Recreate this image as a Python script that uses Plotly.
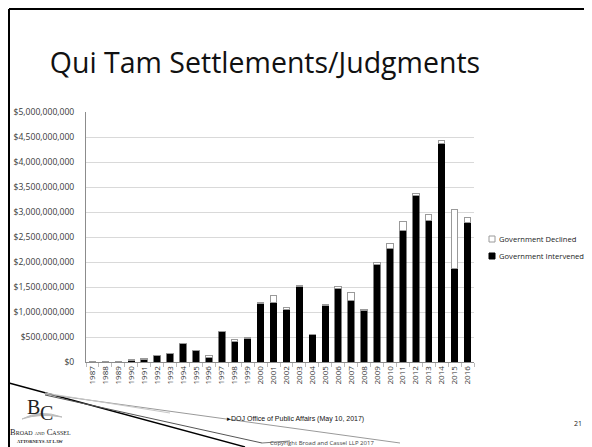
import plotly.graph_objects as go

years = [str(y) for y in range(1987, 2017)]
intervened = [0, 2e6, 5e6, 40e6, 50e6, 130e6, 175e6, 370e6, 230e6, 100e6,
              610e6, 420e6, 480e6, 1180e6, 1200e6, 1060e6, 1520e6, 550e6, 1140e6, 1470e6,
              1240e6, 1030e6, 1950e6, 2270e6, 2640e6, 3330e6, 2830e6, 4370e6, 1870e6, 2790e6]
declined = [2e6, 3e6, 12e6, 5e6, 15e6, 5e6, 5e6, 10e6, 5e6, 35e6,
            10e6, 40e6, 10e6, 20e6, 140e6, 30e6, 20e6, 10e6, 10e6, 40e6,
            150e6, 20e6, 50e6, 110e6, 170e6, 40e6, 130e6, 70e6, 1180e6, 110e6]
series_names = ["Government Intervened", "Government Declined"]
y_ticks = [i * 5e8 for i in range(11)]

# page body has an 8px margin; work in window pixels and offset
OFF = 8
WIN_W, WIN_H = 592, 447
W, H = WIN_W - OFF, WIN_H - OFF
L, R, T, B = 86, 474, 112, 362  # plot area in window pixels


def px(x):
    return (x - L) / (R - L)


def py(y):
    return (B - y) / (B - T)


FONT = "Open Sans"
DEC_LINE = "#9a9a9a"

fig = go.Figure()
fig.add_trace(go.Bar(x=years, y=intervened, name=series_names[0],
                     marker=dict(color="black", line=dict(color="black", width=0.5))))
fig.add_trace(go.Bar(x=years, y=declined, name=series_names[1],
                     marker=dict(color="white", line=dict(color=DEC_LINE, width=1))))

fig.update_layout(
    width=W, height=H,
    margin=dict(l=L - OFF, r=WIN_W - R, t=T - OFF, b=WIN_H - B, pad=0, autoexpand=False),
    paper_bgcolor="white", plot_bgcolor="white",
    barmode="stack", bargap=0.5,
    font=dict(family=FONT, color="#333333"),
    title=dict(text="Qui Tam Settlements/Judgments", x=(265 - OFF) / W, xanchor="center",
               y=1 - (63 - OFF) / H, yanchor="middle",
               font=dict(family=FONT, size=28.5, color="#111111")),
    showlegend=False,
    xaxis=dict(type="category", tickangle=-90, tickfont=dict(size=8, color="#333333"),
               showline=True, linecolor="#8c8c8c", linewidth=1,
               ticks="outside", ticklen=4, tickcolor="#bbbbbb", tickson="boundaries",
               showgrid=False, automargin=False),
    yaxis=dict(range=[0, 5e9], tickvals=y_ticks, tickformat="$,.0f",
               tickfont=dict(size=8.6, color="#3a3a3a"),
               showgrid=True, gridcolor="#d9d9d9", gridwidth=1,
               showline=True, linecolor="#8c8c8c", linewidth=1,
               ticks="", zeroline=False, ticklabelstandoff=9, automargin=False),
)

shapes = []
# slide border
shapes.append(dict(type="line", xref="paper", yref="paper", x0=px(9), y0=py(9), x1=px(9), y1=py(450),
                   line=dict(color="black", width=2)))
shapes.append(dict(type="line", xref="paper", yref="paper", x0=px(9), y0=py(9), x1=px(595), y1=py(9),
                   line=dict(color="black", width=2)))
# decorative swoosh lines
shapes.append(dict(type="line", xref="paper", yref="paper", x0=px(9), y0=py(383), x1=px(245), y1=py(447),
                   line=dict(color="black", width=1.3)))
shapes.append(dict(type="line", xref="paper", yref="paper", x0=px(45), y0=py(394), x1=px(400), y1=py(443),
                   line=dict(color="#9a9a9a", width=1)))
shapes.append(dict(type="line", xref="paper", yref="paper", x0=px(45), y0=py(395), x1=px(262), y1=py(443),
                   line=dict(color="#555555", width=1)))
shapes.append(dict(type="line", xref="paper", yref="paper", x0=px(262), y0=py(443), x1=px(290), y1=py(441),
                   line=dict(color="#555555", width=0.8)))
shapes.append(dict(type="line", xref="paper", yref="paper", x0=px(45), y0=py(393), x1=px(170), y1=py(413),
                   line=dict(color="#c8c8c8", width=1)))
# logo swoosh
shapes.append(dict(type="path", xref="paper", yref="paper",
                   path=f"M {px(22)},{py(419)} Q {px(40)},{py(409)} {px(62)},{py(417)} Q {px(40)},{py(413)} {px(22)},{py(419)} Z",
                   fillcolor="#bdbdbd", line=dict(color="#bdbdbd", width=1)))
# legend swatches
shapes.append(dict(type="rect", xref="paper", yref="paper", x0=px(489), x1=px(495), y0=py(236), y1=py(242),
                   fillcolor="white", line=dict(color=DEC_LINE, width=1)))
shapes.append(dict(type="rect", xref="paper", yref="paper", x0=px(489), x1=px(495), y0=py(253), y1=py(259),
                   fillcolor="black", line=dict(color="black", width=1)))
fig.update_layout(shapes=shapes)

ann = []
ann.append(dict(text=series_names[1], x=px(497), y=py(238.5), xref="paper", yref="paper", showarrow=False,
                font=dict(family=FONT, size=7.6, color="#222222"), xanchor="left", yanchor="middle"))
ann.append(dict(text=series_names[0], x=px(497), y=py(256), xref="paper", yref="paper", showarrow=False,
                font=dict(family=FONT, size=7.6, color="#222222"), xanchor="left", yanchor="middle"))
ann.append(dict(text="B", x=px(33), y=py(407), xref="paper", yref="paper", showarrow=False,
                font=dict(family="Liberation Serif", size=20, color="#222222"), xanchor="center", yanchor="middle"))
ann.append(dict(text="C", x=px(46), y=py(413), xref="paper", yref="paper", showarrow=False,
                font=dict(family="Liberation Serif", size=20, color="#222222"), xanchor="center", yanchor="middle"))
ann.append(dict(text="B<span style='font-size:6px'>ROAD</span> <span style='font-size:4.5px'>AND</span> C<span style='font-size:6px'>ASSEL</span>",
                x=px(40), y=py(432), xref="paper", yref="paper", showarrow=False,
                font=dict(family="Liberation Serif", size=8.5, color="#222222"), xanchor="center", yanchor="middle"))
ann.append(dict(text="<b>ATTORNEYS AT LAW</b>", x=px(40), y=py(441.5), xref="paper", yref="paper", showarrow=False,
                font=dict(family="Liberation Serif", size=4.5, color="#222222"), xanchor="center", yanchor="middle"))
ann.append(dict(text="▸DOJ Office of Public Affairs (May 10, 2017)", x=px(225), y=py(419),
                xref="paper", yref="paper", showarrow=False,
                font=dict(family="Liberation Sans", size=7, color="#111111"), xanchor="left", yanchor="middle"))
ann.append(dict(text="Copyright Broad and Cassel LLP 2017", x=px(268), y=py(443),
                xref="paper", yref="paper", showarrow=False,
                font=dict(family=FONT, size=6, color="#444444"), xanchor="left", yanchor="middle"))
ann.append(dict(text="21", x=px(578), y=py(423), xref="paper", yref="paper", showarrow=False,
                font=dict(family=FONT, size=7, color="#222222"), xanchor="center", yanchor="middle"))
fig.update_layout(annotations=ann)

fig.write_html("out.html")
